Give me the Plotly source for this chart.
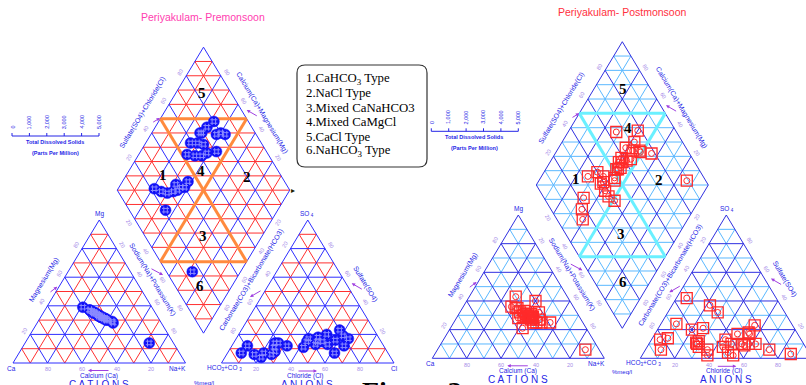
import plotly.graph_objects as go
import math

# ---------------- DATA (% meq/l) ----------------
# Premonsoon samples
pre_ca   = [14, 33, 40, 37, 35, 34, 34, 33, 32, 31, 31, 36, 34, 37, 32, 35, 31, 33, 36, 36, 35, 31, 34, 28, 28, 30]
pre_mg   = [14, 32, 39, 37, 35, 33, 34, 32, 32, 31, 31, 36, 33, 37, 31, 35, 30, 33, 36, 35, 35, 31, 34, 29, 28, 30]
pre_na   = [72, 35, 21, 26, 30, 33, 32, 35, 36, 38, 38, 28, 33, 26, 37, 30, 39, 34, 28, 29, 30, 38, 32, 43, 44, 40]
pre_hco3 = [85, 79, 78, 75, 72, 68, 64, 65, 62, 60, 56, 47, 43, 41, 39, 37, 35, 34, 32, 31, 26, 23, 20, 18, 29, 20]
pre_so4  = [7, 12, 6, 4, 7, 6, 11, 8, 14, 14, 12, 11, 15, 17, 13, 15, 18, 15, 13, 7, 16, 12, 23, 17, 20, 19]
pre_cl   = [8, 9, 16, 21, 21, 26, 25, 27, 24, 26, 32, 42, 42, 42, 48, 48, 47, 51, 55, 62, 58, 65, 57, 65, 51, 61]

# Postmonsoon samples
post_ca   = [36, 20, 28, 30, 27, 19, 31, 27, 37, 27, 22, 28, 24, 30, 34, 36, 32, 29, 29, 30, 30, 24, 33, 33, 30, 8, 29, 31, 28, 30]
post_mg   = [36, 40, 30, 31, 25, 25, 29, 29, 21, 31, 32, 28, 27, 43, 35, 28, 30, 27, 28, 33, 28, 25, 35, 32, 31, 6, 25, 29, 29, 29]
post_na   = [28, 40, 42, 39, 48, 56, 40, 44, 42, 42, 46, 44, 49, 27, 31, 36, 38, 44, 43, 37, 42, 51, 32, 35, 39, 86, 46, 40, 43, 41]
post_hco3 = [35, 22, 28, 35, 28, 22, 41, 39, 42, 47, 36, 32, 28, 67, 60, 58, 60, 53, 52, 62, 62, 60, 77, 82, 85, 11, 62, 44, 45, 48]
post_so4  = [17, 23, 17, 9, 10, 6, 37, 32, 10, 4, 10, 10, 18, 24, 20, 6, 12, 21, 42, 11, 10, 2, 14, 13, 6, 3, 8, 13, 2, 8]
post_cl   = [48, 55, 55, 56, 62, 72, 22, 29, 48, 49, 54, 58, 54, 9, 20, 36, 28, 26, 6, 27, 28, 38, 9, 5, 9, 86, 30, 43, 53, 44]

tick_values = [20, 40, 60, 80]
tds_values = [0, 1000, 2000, 3000, 4000, 5000]
tds_labels = ["0", "1,000", "2,000", "3,000", "4,000", "5,000"]
region_labels = ["1", "2", "3", "4", "5", "6"]
legend_lines = ["1.CaHCO<sub>3</sub> Type", "2.NaCl Type", "3.Mixed CaNaHCO3",
                "4.Mixed CaMgCl", "5.CaCl Type", "6.NaHCO<sub>3</sub> Type"]
titles = ["Periyakulam- Premonsoon", "Periyakulam- Postmonsoon"]

# ---------------- STYLE / LAYOUT ----------------
W, H = 806, 385
SANS = "Liberation Sans, Arial, sans-serif"
SERIF = "Liberation Serif, Times New Roman, serif"
TXT_BLUE = "#2424e6"
TICK_COL = "#a68ce8"
ARROW_COL = "#a040e0"

fig = go.Figure()
annots = []
shapes = []


def lerp(P, Q, t):
    return (P[0] + (Q[0] - P[0]) * t, P[1] + (Q[1] - P[1]) * t)


def add_text(x, y, text, size=7, color=TXT_BLUE, angle=0, family=SANS, xanchor="center", yanchor="middle"):
    annots.append(dict(x=x, y=y, xref="x", yref="y", text=text, showarrow=False,
                       font=dict(size=size, color=color, family=family), textangle=angle,
                       xanchor=xanchor, yanchor=yanchor))


def add_arrow(tail, head):
    annots.append(dict(x=head[0], y=head[1], ax=tail[0], ay=tail[1], xref="x", yref="y",
                       axref="x", ayref="y", text="", showarrow=True, arrowhead=2,
                       arrowsize=0.7, arrowwidth=1, arrowcolor=ARROW_COL))


def draw_piper(cfg, ca, mg, na, hco3, so4, cl):
    x0, yb, s, g, h = cfg["x0"], cfg["yb"], cfg["s"], cfg["g"], cfg["h"]
    A = (x0, yb); B = (x0 + s, yb); C = (x0 + s / 2, yb - h)
    A2 = (x0 + s + g, yb); B2 = (x0 + 2 * s + g, yb); C2 = (x0 + 1.5 * s + g, yb - h)
    D = (x0 + s + g / 2, yb - h * g / s)
    L = (D[0] - s / 2, D[1] - h); R = (D[0] + s / 2, D[1] - h); T = (D[0], D[1] - 2 * h)

    segs = {cfg["c_odd"]: ([], []), cfg["c_even"]: ([], []), cfg["c_horiz"]: ([], [])}

    def seg(P, Q, col):
        xs, ys = segs.setdefault(col, ([], []))
        xs += [P[0], Q[0], None]
        ys += [P[1], Q[1], None]

    def tri_grid(P0, P1, P2, hcol=None):
        for k in range(1, 10):
            t = k / 10
            col = cfg["c_odd"] if k % 2 else cfg["c_even"]
            seg(lerp(P0, P2, t), lerp(P1, P2, t), hcol or col)
            seg(lerp(P0, P1, t), lerp(P2, P1, t), col)
            seg(lerp(P1, P0, t), lerp(P2, P0, t), col)

    tri_grid(A, B, C)
    tri_grid(A2, B2, C2)
    tri_grid(L, R, T, cfg["c_horiz"])
    tri_grid(L, R, D, cfg["c_horiz"])
    seg(L, R, cfg["c_horiz"])
    for col, (xs, ys) in segs.items():
        fig.add_trace(go.Scatter(x=xs, y=ys, mode="lines", line=dict(color=col, width=1),
                                 hoverinfo="skip"))
    # borders
    bx, by = [], []
    for poly in ([A, B, C, A], [A2, B2, C2, A2], [L, T, R, D, L]):
        bx += [p[0] for p in poly] + [None]
        by += [p[1] for p in poly] + [None]
    fig.add_trace(go.Scatter(x=bx, y=by, mode="lines", line=dict(color=cfg["c_even"], width=1),
                             hoverinfo="skip"))
    # facies division lines
    mLT, mTR, mLD, mDR = lerp(L, T, .5), lerp(T, R, .5), lerp(L, D, .5), lerp(D, R, .5)
    fx, fy = [], []
    for P, Q in ((mLT, mTR), (mLD, mDR), (mLT, mDR), (mTR, mLD)):
        fx += [P[0], Q[0], None]
        fy += [P[1], Q[1], None]
    fig.add_trace(go.Scatter(x=fx, y=fy, mode="lines", line=dict(color=cfg["facies"], width=3),
                             hoverinfo="skip"))

    # --- sample positions ---
    cx, cy, ax_, ay_, dx, dy = [], [], [], [], [], []
    for i in range(len(ca)):
        tot_c = ca[i] + mg[i] + na[i]
        tot_a = hco3[i] + so4[i] + cl[i]
        fna, fmg = na[i] / tot_c, mg[i] / tot_c
        fcl, fso = cl[i] / tot_a, so4[i] / tot_a
        cx.append(A[0] + fna * (B[0] - A[0]) + fmg * (C[0] - A[0]))
        cy.append(A[1] + fmg * (C[1] - A[1]))
        ax_.append(A2[0] + fcl * (B2[0] - A2[0]) + fso * (C2[0] - A2[0]))
        ay_.append(A2[1] + fso * (C2[1] - A2[1]))
        p = (ca[i] + mg[i]) / tot_c
        q = (so4[i] + cl[i]) / tot_a
        dx.append(D[0] + p * (L[0] - D[0]) + q * (R[0] - D[0]))
        dy.append(D[1] + p * (L[1] - D[1]) + q * (R[1] - D[1]))
    X = cx + ax_ + dx
    Y = cy + ay_ + dy
    for mk in cfg["markers"]:
        fig.add_trace(go.Scatter(x=X, y=Y, mode="markers", marker=mk, hoverinfo="skip"))

    # --- tick labels ---
    def side_ticks(P0, P1, normal, angle, off=7):
        for v in tick_values:
            P = lerp(P0, P1, v / 100)
            add_text(P[0] + normal[0] * off, P[1] + normal[1] * off, str(v), size=5.5,
                     color=TICK_COL, angle=angle)
    ln = math.hypot(s / 2, h)
    nx, ny = h / ln, (s / 2) / ln
    ang = math.degrees(math.atan2(h, s / 2))
    side_ticks(B, A, (0, 0.9), 0)                     # Ca bottom
    side_ticks(A, C, (-nx, -ny), -ang)                # Mg left
    side_ticks(C, B, (nx, -ny), ang)                  # Na+K right
    side_ticks(A2, B2, (0, 0.9), 0)                   # Cl bottom
    side_ticks(C2, A2, (-nx, -ny), -ang)              # HCO3 left
    side_ticks(B2, C2, (nx, -ny), ang)                # SO4 right
    side_ticks(L, T, (-nx, -ny), -ang)                # SO4+Cl
    side_ticks(R, T, (nx, -ny), ang)                  # Ca+Mg
    side_ticks(L, D, (-nx, ny), ang)                  # Na+K
    side_ticks(R, D, (nx, ny), -ang)                  # CO3+HCO3

    def rel(dxr, dyr):
        return (x0 + dxr, yb + dyr)

    # axis titles
    for (rx, ry), txt, a in (((129.5, -250), "Sulfate(SO4)+Chloride(Cl)", -ang),
                             ((249, -250), "Calcium(Ca)+Magnesium(Mg)", ang),
                             ((139, -84), "Sodium(Na)+Potassium(K)", ang),
                             ((238.5, -83), "Carbonate(CO3)+Bicarbonate(HCO3)", -ang),
                             ((31, -83), "Magnesium(Mg)", -ang),
                             ((352, -79), "Sulfate(SO4)", ang)):
        px, py = rel(rx, ry)
        add_text(px, py, txt, size=7, angle=a)
    for (rx, ry), txt, sz in (((86, 13), "Calcium (Ca)", 6.5), ((292, 12.5), "Chloride (Cl)", 6.5),
                              ((-2, 5), "Ca", 6.5), ((164, 5), "Na+K", 6.5), ((86, -149), "Mg", 6.5),
                              ((211, 5), "HCO<sub>3</sub>+CO <sub>3</sub>", 6.5), ((381, 5), "Cl", 6.5),
                              ((294.4, -149), "SO<sub> 4</sub>", 6.5)):
        px, py = rel(rx, ry)
        add_text(px, py, txt, size=sz)
    px, py = rel(86, 21); add_text(px, py, "C A T I O N S", size=10)
    px, py = rel(294, 21); add_text(px, py, "A N I O N S", size=10)
    px, py = rel(*cfg["meq"]); add_text(px, py, "%meq/l", size=6)
    px, py = rel(190, -346); add_text(px, py, cfg["title"], size=10.5, color=cfg["title_col"])

    # arrows
    for t_, h_ in (((97, 7.5), (75, 7.5)), ((284, 8), (304, 8)), ((36, -70), (44.3, -76.3)),
                   ((137, -95), (150, -88)), ((138.7, -240), (147, -245)),
                   ((245.3, -246.3), (233.7, -253)), ((249, -73), (237, -66)),
                   ((350.3, -73), (338.7, -79.7))):
        add_arrow(rel(*t_), rel(*h_))

    # TDS scale
    t0, t1 = rel(-1, -227), rel(86, -227)
    sx, sy = [t0[0], t1[0], None], [t0[1], t1[1], None]
    for j, v in enumerate(tds_values):
        xx = t0[0] + (t1[0] - t0[0]) * v / tds_values[-1]
        sx += [xx, xx, None]
        sy += [t0[1], t0[1] - 3, None]
        add_text(xx, t0[1] - 5, tds_labels[j], size=5.5, angle=-90, yanchor="bottom")
    fig.add_trace(go.Scatter(x=sx, y=sy, mode="lines", line=dict(color=TXT_BLUE, width=1),
                             hoverinfo="skip"))
    px, py = rel(42, -221); add_text(px, py, "<b>Total Dissolved Solids</b>", size=5.5)
    px, py = rel(42, -210.5); add_text(px, py, "<b>(Parts Per Million)</b>", size=5.5)

    # region numbers
    for lab, (ox, oy) in zip(region_labels, cfg["regions"]):
        add_text(T[0] + ox, T[1] + oy, "<b>" + lab + "</b>", size=15, color="black", family=SERIF)


left_cfg = dict(x0=13, yb=363, s=172.5, g=36, h=143,
                c_odd="#ff3030", c_even="#2e2eff", c_horiz="#ff3030", facies="#ff8a3d",
                title=titles[0], title_col="#ff40b0", meq=(191, 20),
                regions=[(-41, 128), (43, 130), (-0.5, 189), (-3, 124), (-1.5, 46), (-4, 239)],
                markers=[dict(symbol="circle", size=11, color="#1010f5",
                              line=dict(color="#1c1cff", width=0.5)),
                         dict(symbol="hash-open", size=7, color="#8a8aff",
                              line=dict(color="#8a8aff", width=1))])
right_cfg = dict(x0=432.3, yb=358.3, s=172, g=36, h=143.3,
                 c_odd="#5ab8ff", c_even="#2f2fe0", c_horiz="#5ab8ff", facies="#6af0ff",
                 title=titles[1], title_col="#ff3040", meq=(189.4, 13.4),
                 regions=[(-46.6, 137.3), (37, 138.3), (-1.6, 192.3), (6, 86), (1, 47.3), (1, 240)],
                 markers=[dict(symbol="square-open", size=11, color="#ff2a2a",
                               line=dict(color="#ff2a2a", width=1.3)),
                          dict(symbol="circle-open", size=6, color="#ff2a2a",
                               line=dict(color="#ff2a2a", width=1))])

draw_piper(left_cfg, pre_ca, pre_mg, pre_na, pre_hco3, pre_so4, pre_cl)
draw_piper(right_cfg, post_ca, post_mg, post_na, post_hco3, post_so4, post_cl)

# legend box
bx0, bx1, by0, by1, r = 297, 427, 65, 167, 8
shapes.append(dict(type="path", xref="x", yref="y",
                   path=(f"M {bx0+r},{by0} L {bx1-r},{by0} Q {bx1},{by0} {bx1},{by0+r} "
                         f"L {bx1},{by1-r} Q {bx1},{by1} {bx1-r},{by1} L {bx0+r},{by1} "
                         f"Q {bx0},{by1} {bx0},{by1-r} L {bx0},{by0+r} Q {bx0},{by0} {bx0+r},{by0} Z"),
                   line=dict(color="#333333", width=1.2), fillcolor="white"))
for k, line in enumerate(legend_lines):
    add_text(304, 79 + k * 14.4, line, size=12.8, color="black", family=SERIF, xanchor="left")

# small marker near diamond right vertex
add_text(293, 190, "▸", size=8, color="#222200")

# Figure caption (partly cut off at the bottom)
add_text(360, 374, "<b>Figure 3</b>", size=28, color="black", family=SERIF,
         xanchor="left", yanchor="top")

fig.update_layout(width=W, height=H, margin=dict(l=0, r=0, t=0, b=0),
                  paper_bgcolor="white", plot_bgcolor="white", showlegend=False,
                  xaxis=dict(range=[0, W], visible=False, fixedrange=True),
                  yaxis=dict(range=[H, 0], visible=False, fixedrange=True),
                  annotations=annots, shapes=shapes)
fig.write_html("out.html")
